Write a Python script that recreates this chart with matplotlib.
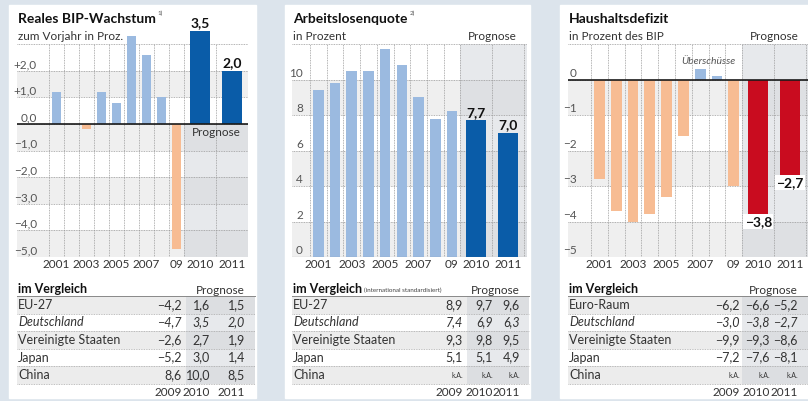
import matplotlib
matplotlib.use('Agg')
import matplotlib.pyplot as plt
from matplotlib import font_manager
from matplotlib.patches import Rectangle

# ---- data ----
years = list(range(2001, 2012))
year_labels = ['2001', '', '2003', '', '2005', '', '2007', '', '09', '2010', '2011']

bip = [1.2, 0.0, -0.2, 1.2, 0.8, 3.3, 2.6, 1.0, -4.7, 3.5, 2.0]
alq = [9.4, 9.8, 10.5, 10.5, 11.7, 10.8, 9.0, 7.8, 8.2, 7.7, 7.0]
defizit = [-2.8, -3.7, -4.0, -3.8, -3.3, -1.6, 0.3, 0.1, -3.0, -3.8, -2.7]

tab_years = ['2009', '2010', '2011']
laender = ['EU-27', 'Deutschland', 'Vereinigte Staaten', 'Japan', 'China']
laender_def = ['Euro-Raum', 'Deutschland', 'Vereinigte Staaten', 'Japan', 'China']
bip_tab = [[-4.2, 1.6, 1.5], [-4.7, 3.5, 2.0], [-2.6, 2.7, 1.9], [-5.2, 3.0, 1.4], [8.6, 10.0, 8.5]]
alq_tab = [[8.9, 9.7, 9.6], [7.4, 6.9, 6.3], [9.3, 9.8, 9.5], [5.1, 5.1, 4.9], [None, None, None]]
def_tab = [[-6.2, -6.6, -5.2], [-3.0, -3.8, -2.7], [-9.9, -9.3, -8.6], [-7.2, -7.6, -8.1], [None, None, None]]

# ---- style ----
W, H = 808, 401
BG = '#dce4ec'
LIGHT = '#9bbae0'
DARK = '#0a5ca8'
ORANGE = '#f7bc93'
RED = '#c90c1f'
BAND = '#efefef'
FC = '#c5cad1'
TXT = '#333333'

names = {f.name for f in font_manager.fontManager.ttflist}
FONT = 'DejaVu Sans'
for cand in ['Lato', 'Liberation Sans']:
    if cand in names:
        FONT = cand
        break
plt.rcParams['font.family'] = [FONT, 'DejaVu Sans']


def fmt(v):
    if v is None:
        return 'k.A.'
    return f'{v:.1f}'.replace('.', ',').replace('-', '\u2212')


def fmt_tick(v, plus):
    s = fmt(v) if plus else str(int(v)).replace('-', '\u2212')
    if plus and v > 0:
        s = '+' + s
    return s


fig = plt.figure(figsize=(W / 100, H / 100), dpi=100)
fig.patch.set_facecolor(BG)
ov = fig.add_axes([0, 0, 1, 1], zorder=0)
ov.set_xlim(0, W)
ov.set_ylim(H, 0)
ov.axis('off')
renderer = fig.canvas.get_renderer()


def right_end(t):
    # x position (pixels from left) where a text ends
    return t.get_window_extent(renderer).x1


TOP, BOT = 44, 257


def panel(p):
    l, x0, hw, fw, r = p['l'], p['x0'], p['hw'], p['fw'], p['r']
    ymin, ymax, step = p['ylim'][0], p['ylim'][1], p['step']
    ov.add_patch(Rectangle((p['pl'], 5), p['pr'] - p['pl'], 393, color='white', zorder=0))

    ax = fig.add_axes([l / W, 1 - BOT / H, (r - l) / W, (BOT - TOP) / H], zorder=1)
    ax.set_facecolor('none')
    ax.set_xlim(l, r)
    ax.set_ylim(ymin, ymax)
    ax.axis('off')

    xf = x0 + 9 * hw
    centers = [x0 + (i + 0.5) * hw for i in range(9)] + [xf + (j + 0.5) * fw for j in range(2)]
    widths = [hw * 0.64] * 9 + [fw * 0.62] * 2

    # background bands
    v = ymin
    k = 0
    while v < ymax:
        if k % 2 == 0:
            ax.axhspan(v, v + step, color=BAND, lw=0, zorder=0)
        v += step
        k += 1
    fc_top = 0 if p['fc_below_zero'] else ymax
    ax.fill_between([xf, r], ymin, fc_top, color=FC, alpha=0.4, lw=0, zorder=0.5)

    # grid
    v = ymin
    while v <= ymax + 1e-9:
        ax.plot([l, r], [v, v], color='#9a9a9a', lw=0.6, ls=(0, (1, 1)), zorder=1)
        v += step
    bounds = [x0 + i * hw for i in range(10)] + [xf + fw, xf + 2 * fw]
    for b in bounds:
        ax.plot([b, b], [ymin, ymax], color='#9a9a9a', lw=0.6, ls=(0, (1, 1)), zorder=1)

    # bars
    vals = p['vals']
    cols = []
    for i, val in enumerate(vals):
        if i >= 9:
            cols.append(p['fc_color'])
        elif val < 0:
            cols.append(ORANGE)
        else:
            cols.append(LIGHT)
    bars = ax.bar(centers, vals, width=widths, color=cols, zorder=2)
    for b in bars:
        b.set_clip_on(False)

    if p['zero_line']:
        ax.plot([l, r], [0, 0], color='#1a1a1a', lw=1.2, zorder=3)
    else:
        ax.plot([l, r], [ymin, ymin], color='#777777', lw=0.8, zorder=3)

    # y labels above gridlines
    for t in p['ticks']:
        ax.annotate(fmt_tick(t, p['plus']), (p['lx'], t), xytext=(0, 0.5), textcoords='offset points',
                    ha='right', va='bottom', fontsize=8.5, color='#555555')

    # forecast value labels
    for j in (9, 10):
        val = vals[j]
        if val >= 0:
            ax.annotate(fmt(val), (centers[j], val), xytext=(0, 1), textcoords='offset points',
                        ha='center', va='bottom', fontsize=10, fontweight='bold', color='#111111',
                        annotation_clip=False)
        else:
            ax.annotate(fmt(val), (centers[j], val), xytext=(0, -1), textcoords='offset points',
                        ha='center', va='top', fontsize=10, fontweight='bold', color='#111111',
                        bbox=dict(boxstyle='square,pad=0.1', fc='white', ec='none'))

    # x labels
    for c, lab in zip(centers, year_labels):
        ov.text(c, 265, lab, ha='center', va='center', fontsize=8.5, color=TXT)

    # titles
    t = ov.text(l + 1, 19, p['title'], ha='left', va='center', fontsize=10, fontweight='bold', color='#111111')
    if p.get('sup'):
        ov.text(right_end(t) + 2, 13, p['sup'], ha='left', va='center', fontsize=4.5, color='#555555')
    ov.text(l + 1, 37, p['sub'], ha='left', va='center', fontsize=8.5, color=TXT)
    if p['prog_top']:
        ov.text(xf + fw, 37, 'Prognose', ha='center', va='center', fontsize=8.5, color=TXT)
    else:
        ax.annotate('Prognose', (xf + fw, 0), xytext=(0, -2), textcoords='offset points',
                    ha='center', va='top', fontsize=8.5, color=TXT)

    # table
    ttop, rh = 296, 17.6
    tr = p['pr'] - 1
    c09, c10, c11 = p['cols']
    for i in range(5):
        y0 = ttop + i * rh
        if i % 2 == 0:
            ov.add_patch(Rectangle((l, y0), tr - l, rh, color='#ececec', lw=0, zorder=1))
        ov.add_patch(Rectangle((p['shade'], y0), tr - p['shade'], rh, color=FC, alpha=0.4, lw=0, zorder=1.5))
        ov.plot([l, tr], [y0 + rh, y0 + rh], color='#a8a8a8', lw=0.6, ls=(0, (1, 1)), zorder=2)
    ov.plot([l, tr], [ttop, ttop], color='#888888', lw=0.7, zorder=2)

    t = ov.text(l + 1, 289, 'im Vergleich', ha='left', va='center', fontsize=9, fontweight='bold', color='#111111')
    if p.get('note'):
        ov.text(right_end(t) + 2, 290, p['note'], ha='left', va='center', fontsize=4.5, color='#444444')
    ov.text(c11, 290, 'Prognose', ha='right', va='center', fontsize=8.5, color=TXT)

    for i, (land, row) in enumerate(zip(p['laender'], p['tab'])):
        yc = ttop + (i + 0.5) * rh
        st = 'italic' if land == 'Deutschland' else 'normal'
        ov.text(l + 1, yc, land, ha='left', va='center', fontsize=9, style=st, color=TXT)
        for cx, val in zip((c09, c10, c11), row):
            fs = 5 if val is None else 9
            ov.text(cx, yc, fmt(val), ha='right', va='center', fontsize=fs, style=st, color=TXT)
    for cx, yl in zip((c09, c10, c11), tab_years):
        ov.text(cx, 393, yl, ha='right', va='center', fontsize=8.5, color=TXT)
    return ax, centers


p1 = dict(l=17, x0=49, hw=15, fw=32, r=248, ylim=(-5, 3), step=1, pl=9, pr=256,
          vals=bip, fc_color=DARK, fc_below_zero=True, zero_line=True,
          ticks=[2, 1, 0, -1, -2, -3, -4, -5], plus=True, lx=37,
          title='Reales BIP-Wachstum', sup='1)', sub='zum Vorjahr in Proz.', prog_top=False,
          laender=laender, tab=bip_tab, cols=(182, 210, 245), shade=186)
p2 = dict(l=292, x0=310, hw=16.7, fw=32, r=527, ylim=(0, 12), step=2, pl=285, pr=530,
          vals=alq, fc_color=DARK, fc_below_zero=False, zero_line=False,
          ticks=[0, 2, 4, 6, 8, 10], plus=False, lx=303,
          title='Arbeitslosenquote', sup='2)', sub='in Prozent', prog_top=True,
          laender=laender, tab=alq_tab, cols=(463, 493, 520), shade=467,
          note='(international standardisiert)')
p3 = dict(l=568, x0=591, hw=16.8, fw=32, r=808, ylim=(-5, 1), step=1, pl=560, pr=809,
          vals=defizit, fc_color=RED, fc_below_zero=False, zero_line=True,
          ticks=[0, -1, -2, -3, -4, -5], plus=False, lx=577,
          title='Haushaltsdefizit', sub='in Prozent des BIP', prog_top=True,
          laender=laender_def, tab=def_tab, cols=(740, 770, 798), shade=742)

panel(p1)
panel(p2)
ax3, c3 = panel(p3)
ov.text((c3[6] + c3[7]) / 2, 62, '\u00dcberschüsse', ha='center', va='center', fontsize=7.5,
        style='italic', color='#555555', zorder=5)

fig.savefig('out.png', dpi=100, facecolor=BG)
